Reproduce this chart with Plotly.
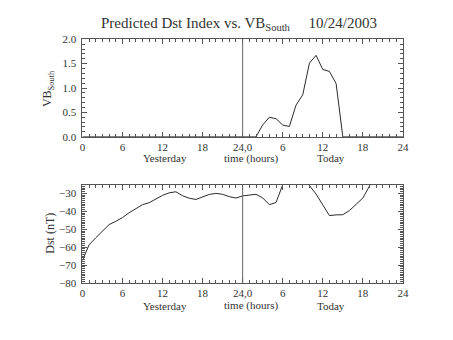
import plotly.graph_objects as go

# ---- data ----
vb_hours = [0, 1, 2, 3, 4, 5, 6, 7, 8, 9, 10, 11, 12, 13, 14, 15, 16, 17, 18, 19, 20, 21, 22, 23, 24,
            25, 26, 27, 28, 29, 30, 31, 32, 33, 34, 35, 36, 37, 38, 39, 40, 41, 42, 43, 44, 45, 46, 47, 48]
vb_south = [0, 0, 0, 0, 0, 0, 0, 0, 0, 0, 0, 0, 0, 0, 0, 0, 0, 0, 0, 0, 0, 0, 0, 0, 0,
            0, 0.0, 0.24, 0.40, 0.37, 0.24, 0.21, 0.65, 0.86, 1.51, 1.67, 1.38, 1.34, 1.09, 0.0,
            0, 0, 0, 0, 0, 0, 0, 0, 0]

dst_hours = [0, 1, 2, 3, 4, 5, 6, 7, 8, 9, 10, 11, 12, 13, 14, 15, 16, 17, 18, 19, 20, 21, 22, 23,
             24, 25, 26, 27, 28, 29, 30, 31, 32, 33, 34, 35, 36, 37, 38, 39, 40, 41, 42, 43, 44, 45, 46]
dst = [-67.5, -58.7, -54.8, -51.3, -47.4, -45.6, -43.5, -40.8, -38.4, -36.3, -35.2, -33.2, -31.1,
       -29.7, -29.1, -31.3, -32.7, -33.4, -32.0, -30.6, -30.0, -30.5, -31.8, -32.6,
       -31.4, -30.8, -30.5, -32.5, -36.3, -35.1, -25.2, -20.0, -18.0, -20.0, -25.6, -30.4,
       -36.6, -42.4, -42.0, -41.9, -39.6, -36.0, -32.6, -25.9, -20.0, -18.0, -17.0]

x_tickvals = [0, 6, 12, 18, 24, 30, 36, 42, 48]
x_ticktext = ["0", "6", "12", "18", "24,0", "6", "12", "18", "24"]
vb_tickvals = [0.0, 0.5, 1.0, 1.5, 2.0]
dst_tickvals = [-80, -70, -60, -50, -40, -30]
xlabel_words = ["Yesterday", "time (hours)", "Today"]

# ---- style ----
W, H = 453, 340
FONT = "Liberation Serif"
AX = "#555555"
LINE = "#2a2a2a"
TXT = "#333333"

def px(x):
    return x / W

def py(y):
    return 1 - y / H

fig = go.Figure()
fig.add_trace(go.Scatter(x=vb_hours, y=vb_south, mode="lines",
                         line=dict(color=LINE, width=1), xaxis="x", yaxis="y", showlegend=False))
fig.add_trace(go.Scatter(x=dst_hours, y=dst, mode="lines",
                         line=dict(color=LINE, width=1), xaxis="x2", yaxis="y2", showlegend=False))

xdom = [px(81), px(408)]
common_x = dict(range=[0, 48], tickmode="array", tickvals=x_tickvals, ticktext=x_ticktext,
                ticks="inside", ticklen=5, tickcolor=AX, showline=True, linecolor=AX, linewidth=1,
                mirror="ticks", showgrid=False, zeroline=False,
                minor=dict(dtick=1, ticks="inside", ticklen=3, tickcolor=AX, showgrid=False),
                tickfont=dict(family=FONT, size=11, color=TXT), domain=xdom)
common_y = dict(ticks="inside", ticklen=5, tickcolor=AX, showline=True, linecolor=AX, linewidth=1,
                mirror="ticks", showgrid=False, zeroline=False, ticklabelstandoff=3,
                tickfont=dict(family=FONT, size=11, color=TXT))

fig.update_layout(
    width=W, height=H, margin=dict(l=0, r=0, t=0, b=0),
    paper_bgcolor="white", plot_bgcolor="white",
    xaxis=dict(**common_x, anchor="y"),
    xaxis2=dict(**common_x, anchor="y2"),
    yaxis=dict(**common_y, range=[0, 2.01], tickmode="array", tickvals=vb_tickvals,
               ticktext=["%.1f" % v for v in vb_tickvals],
               minor=dict(dtick=0.1, ticks="inside", ticklen=3, tickcolor=AX, showgrid=False),
               domain=[py(135.5), py(34)], anchor="x"),
    yaxis2=dict(**common_y, range=[-80.1, -25.4], tickmode="array", tickvals=dst_tickvals,
                minor=dict(dtick=1, ticks="inside", ticklen=3, tickcolor=AX, showgrid=False),
                domain=[py(287.3), py(185.7)], anchor="x2"),
)

# vertical divider at hour 24 on both plots
for xr, yr in (("x", "y domain"), ("x2", "y2 domain")):
    fig.add_shape(type="line", xref=xr, yref=yr, x0=24, x1=24, y0=0, y1=1,
                  line=dict(color="#666666", width=1))

ann = []
ann.append(dict(text="Predicted Dst Index vs. VB<sub>South</sub>     10/24/2003",
                x=px(241), y=py(19), font=dict(family=FONT, size=15, color=TXT)))
for yrow in (157.7, 310.7):
    for word, xc in zip(xlabel_words, (165.7, 253.3, 334.3)):
        ann.append(dict(text=word, x=px(xc), y=py(yrow), font=dict(family=FONT, size=11, color=TXT)))
ann.append(dict(text="VB<sub>South</sub>", x=px(46), y=py(86), textangle=-90,
                font=dict(family=FONT, size=12, color=TXT)))
ann.append(dict(text="Dst (nT)", x=px(48), y=py(236), textangle=-90,
                font=dict(family=FONT, size=12, color=TXT)))
for a in ann:
    a.update(xref="paper", yref="paper", showarrow=False, xanchor="center", yanchor="middle")
    fig.add_annotation(**a)

fig.write_html("out.html")
